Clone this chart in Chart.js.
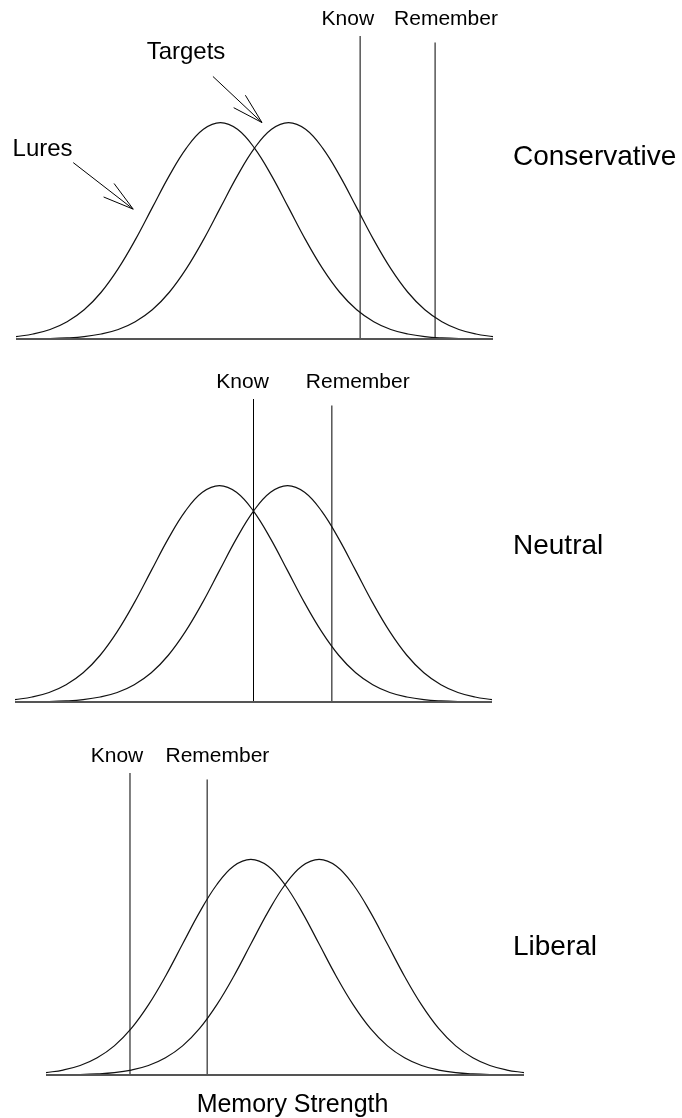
<!DOCTYPE html>
<html>
<head>
<meta charset="utf-8">
<script src="https://cdn.jsdelivr.net/npm/chart.js@4.4.1/dist/chart.umd.min.js"></script>
<style>
  html, body { margin: 0; padding: 0; background: #fff; }
  canvas { display: block; }
</style>
</head>
<body>
<canvas id="panel0" width="682" height="360"></canvas>
<canvas id="panel1" width="682" height="360"></canvas>
<canvas id="panel2" width="682" height="398"></canvas>
<script>
const FONT = "'Liberation Sans', Arial, sans-serif";

// memory strength axis (in units of the lure sd)
const strength = [-3, -2.75, -2.5, -2.25, -2, -1.75, -1.5, -1.25, -1, -0.75, -0.5, -0.25, 0,
                  0.25, 0.5, 0.75, 1, 1.25, 1.5, 1.75, 2, 2.25, 2.5, 2.75, 3, 3.25, 3.5, 3.75, 4];

// curve heights (peak = 1)
const lures = [0.011, 0.023, 0.044, 0.080, 0.135, 0.216, 0.325, 0.458, 0.607, 0.755, 0.882, 0.969, 1.000,
               0.969, 0.882, 0.755, 0.607, 0.458, 0.325, 0.216, 0.135, 0.080, 0.044, 0.023, 0.011, 0.005, 0.002, 0.001, 0.000];
const targets = [0.000, 0.001, 0.002, 0.005, 0.011, 0.023, 0.044, 0.080, 0.135, 0.216, 0.325, 0.458, 0.607,
                 0.755, 0.882, 0.969, 1.000, 0.969, 0.882, 0.755, 0.607, 0.458, 0.325, 0.216, 0.135, 0.080, 0.044, 0.023, 0.011];

const panelNames = ['Conservative', 'Neutral', 'Liberal'];
const knowCriterion = [2.05, 0.5, -1.77];
const rememberCriterion = [3.15, 1.65, -0.64];
const knowLabelX = [1.87, 0.34, -1.96];
const rememberLabelX = [3.31, 2.03, -0.49];
const knowTop = 1.40;
const rememberTop = 1.37;

// layout of each panel on the page
const panels = [
  { id: 'panel0', padding: { left: 16, right: 189, top: 36, bottom: 21 }, nameY: 0.838 },
  { id: 'panel1', padding: { left: 15, right: 190, top: 39, bottom: 18 }, nameY: 0.718 },
  { id: 'panel2', padding: { left: 46, right: 158, top: 53, bottom: 43 }, nameY: 0.593, xTitle: 'Memory Strength' }
];

// pointers in the first panel
const pointers = [
  { text: 'Lures', textAt: [-2.61, 0.875], from: [-2.16, 0.815], to: [-1.28, 0.60] },
  { text: 'Targets', textAt: [-0.505, 1.326], from: [-0.11, 1.213], to: [0.61, 1.0] }
];

function drawArrow(ctx, x0, y0, x1, y1) {
  const ang = Math.atan2(y0 - y1, x0 - x1);
  ctx.beginPath();
  ctx.moveTo(x0, y0);
  ctx.lineTo(x1, y1);
  [-0.27, 0.27].forEach(d => {
    ctx.moveTo(x1, y1);
    ctx.lineTo(x1 + 32 * Math.cos(ang + d), y1 + 32 * Math.sin(ang + d));
  });
  ctx.stroke();
}

const panelText = {
  id: 'panelText',
  afterDatasetsDraw(chart, args, opts) {
    const ctx = chart.ctx;
    const xs = chart.scales.x;
    const ys = chart.scales.y;
    const i = opts.index;
    ctx.save();
    ctx.fillStyle = '#000';
    ctx.strokeStyle = '#000';
    ctx.lineWidth = 1;
    ctx.textBaseline = 'middle';

    // criterion labels
    ctx.font = '21px ' + FONT;
    ctx.textAlign = 'center';
    const labelY = ys.getPixelForValue(knowTop) - 17;
    ctx.fillText('Know', xs.getPixelForValue(knowLabelX[i]), labelY);
    ctx.fillText('Remember', xs.getPixelForValue(rememberLabelX[i]), labelY);

    // panel name on the right
    ctx.font = '28px ' + FONT;
    ctx.textAlign = 'left';
    ctx.fillText(panelNames[i], 513, ys.getPixelForValue(panels[i].nameY));

    if (i === 0) {
      ctx.font = '24px ' + FONT;
      ctx.textAlign = 'center';
      pointers.forEach(p => {
        ctx.fillText(p.text, xs.getPixelForValue(p.textAt[0]), ys.getPixelForValue(p.textAt[1]));
        drawArrow(ctx,
          xs.getPixelForValue(p.from[0]), ys.getPixelForValue(p.from[1]),
          xs.getPixelForValue(p.to[0]), ys.getPixelForValue(p.to[1]));
      });
    }

    if (panels[i].xTitle) {
      ctx.font = '25px ' + FONT;
      ctx.textAlign = 'center';
      ctx.fillText(panels[i].xTitle, xs.getPixelForValue(0.61), chart.chartArea.bottom + 30);
    }
    ctx.restore();
  }
};

function curve(values) {
  return strength.map((x, j) => ({ x: x, y: values[j] }));
}

panels.forEach((panel, i) => {
  const ctx = document.getElementById(panel.id).getContext('2d');
  new Chart(ctx, {
    type: 'line',
    data: {
      datasets: [
        {
          label: 'Axis',
          data: [{ x: strength[0], y: 0 }, { x: strength[strength.length - 1], y: 0 }],
          borderColor: '#555',
          borderWidth: 2
        },
        {
          label: 'Lures',
          data: curve(lures),
          borderColor: '#111',
          borderWidth: 1.2,
          tension: 0.4
        },
        {
          label: 'Targets',
          data: curve(targets),
          borderColor: '#111',
          borderWidth: 1.2,
          tension: 0.4
        },
        {
          label: 'Know',
          data: [{ x: knowCriterion[i], y: 0 }, { x: knowCriterion[i], y: knowTop }],
          borderColor: '#000',
          borderWidth: 1
        },
        {
          label: 'Remember',
          data: [{ x: rememberCriterion[i], y: 0 }, { x: rememberCriterion[i], y: rememberTop }],
          borderColor: '#000',
          borderWidth: 1
        }
      ]
    },
    options: {
      responsive: false,
      animation: false,
      clip: false,
      layout: { padding: panel.padding },
      elements: { point: { radius: 0 } },
      scales: {
        x: { type: 'linear', min: -3, max: 4, display: false },
        y: { min: 0, max: knowTop, display: false }
      },
      plugins: {
        legend: { display: false },
        tooltip: { enabled: false },
        panelText: { index: i }
      }
    },
    plugins: [panelText]
  });
});
</script>
</body>
</html>
